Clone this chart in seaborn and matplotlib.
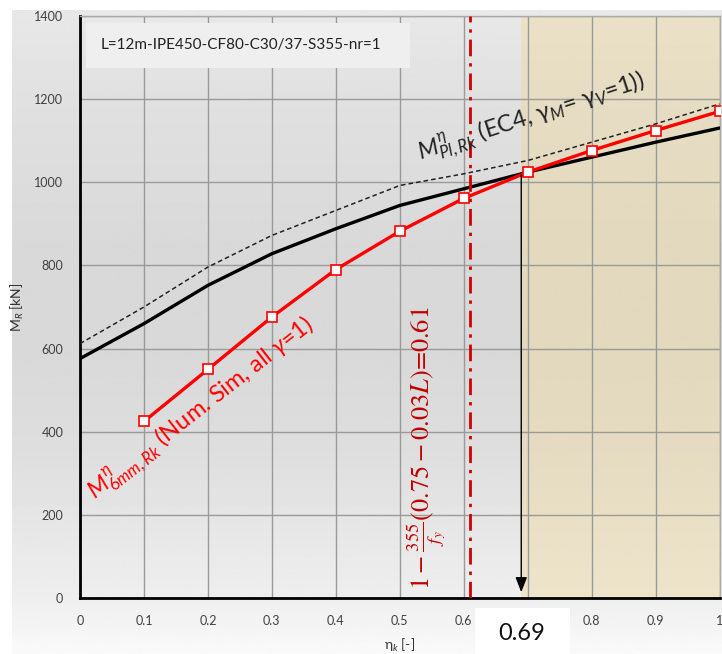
import numpy as np
import pandas as pd
import matplotlib
matplotlib.use("Agg")
import matplotlib.pyplot as plt
from matplotlib.patches import Rectangle
import seaborn as sns

# ---------------- data ----------------
eta = [0.0, 0.1, 0.2, 0.3, 0.4, 0.5, 0.6, 0.7, 0.8, 0.9, 1.0]
m_pl_rk_solid = [576, 660, 752, 828, 888, 944, 984, 1024, 1060, 1096, 1130]
m_pl_rk_dashed = [612, 700, 796, 872, 932, 992, 1020, 1052, 1096, 1140, 1188]
eta_sim = [0.1, 0.2, 0.3, 0.4, 0.5, 0.6, 0.7, 0.8, 0.9, 1.0]
m_6mm_rk = [425, 550, 676, 790, 882, 961, 1024, 1076, 1124, 1170]
eta_limit = 0.61
eta_cross = 0.69
m_cross = 1024
x_ticks = [0, 0.1, 0.2, 0.3, 0.4, 0.5, 0.6, 0.7, 0.8, 0.9, 1]
# the 0.7 label is covered by the "0.69" box in the reference
x_tick_labels = ["0", "0.1", "0.2", "0.3", "0.4", "0.5", "0.6", "", "0.8", "0.9", "1"]
y_ticks = [0, 200, 400, 600, 800, 1000, 1200, 1400]

sns.set_style("white")
plt.rcParams["font.family"] = ["Lato", "DejaVu Sans"]
plt.rcParams["mathtext.fontset"] = "custom"
plt.rcParams["mathtext.rm"] = "Lato"
plt.rcParams["mathtext.it"] = "Lato:italic"
plt.rcParams["mathtext.bf"] = "Lato:bold"

W, H = 722, 654
fig = plt.figure(figsize=(W / 100, H / 100), dpi=100)
fig.patch.set_facecolor("white")

# chart-area gradient background
bg = fig.add_axes([12 / W, 0, 1 - 12 / W, 1 - 10 / H], zorder=-5)
ys = np.linspace(10, 654, 300)
stops_y = [10, 100, 250, 350, 450, 598, 654]
stops_v = [0.91, 0.88, 0.85, 0.85, 0.87, 0.935, 0.98]
vals = np.interp(ys, stops_y, stops_v)
bg.imshow(vals[:, None], cmap="gray", vmin=0, vmax=1, aspect="auto",
          extent=[0, 1, 0, 1], origin="upper")
bg.axis("off")

ax = fig.add_axes([80 / W, (H - 598.3) / H, (719.5 - 80) / W, (598.3 - 15.7) / H])
ax.set_facecolor("none")

# shaded region
ax.axvspan(eta_cross, 1.0, color="#eed9a0", alpha=0.45, lw=0, zorder=0)

df_solid = pd.DataFrame({"eta": eta, "M": m_pl_rk_solid})
df_dash = pd.DataFrame({"eta": eta, "M": m_pl_rk_dashed})
df_sim = pd.DataFrame({"eta": eta_sim, "M": m_6mm_rk})

sns.lineplot(data=df_dash, x="eta", y="M", ax=ax, color="#222222", lw=1.1,
             linestyle=(0, (3, 2)), zorder=3)
sns.lineplot(data=df_solid, x="eta", y="M", ax=ax, color="black", lw=2.4, zorder=4)
sns.lineplot(data=df_sim, x="eta", y="M", ax=ax, color="#ff0000", lw=2.4, zorder=5,
             marker="s", markersize=7, markerfacecolor="white",
             markeredgecolor="#ff0000", markeredgewidth=1.2)

# limit line
ax.axvline(eta_limit, color="#d00000", lw=2, linestyle=(0, (6, 2.5, 1.2, 2.5)), zorder=6)

# arrow from intersection
ax.annotate("", xy=(eta_cross, 8), xytext=(eta_cross, m_cross),
            arrowprops=dict(arrowstyle="-|>,head_width=0.35,head_length=0.9",
                            color="black", lw=1), zorder=7)

ax.set_xlim(0, 1)
ax.set_ylim(0, 1400)
ax.set_xticks(x_ticks)
ax.set_xticklabels(x_tick_labels)
ax.set_yticks(y_ticks)
ax.grid(True, color="#9a9a9a", lw=1)
ax.set_axisbelow(True)
ax.tick_params(axis="both", length=0, labelsize=9, labelcolor="#404040")
ax.tick_params(axis="x", pad=12)
ax.tick_params(axis="y", pad=12)
for s in ["top", "right"]:
    ax.spines[s].set_color("#aaaaaa")
    ax.spines[s].set_linewidth(1)
for s in ["left", "bottom"]:
    ax.spines[s].set_color("black")
    ax.spines[s].set_linewidth(2)

ax.set_xlabel(r"η$_k$ [-]", fontsize=10, color="#333333", labelpad=7)
ax.set_ylabel(r"M$_R$ [kN]", fontsize=10, color="#333333", labelpad=6)

# title box
ax.add_patch(Rectangle((0.01, 1275), 0.506, 108, facecolor="#efefef",
                       edgecolor="none", zorder=2))
ax.text(0.032, 1330, "L=12m-IPE450-CF80-C30/37-S355-nr=1", fontsize=11,
        color="#222222", va="center", ha="left", zorder=3)

# curve labels
ax.text(0.532, 1052, r"$M^{\eta}_{Pl,Rk}$ (EC4, γ$_M$= γ$_V$=1))", fontsize=17,
        color="#222222", rotation=18, rotation_mode="anchor",
        ha="left", va="baseline", zorder=8)
ax.text(0.024, 236, r"$M^{\eta}_{6mm,Rk}$ (Num. Sim, all $\gamma$=1)", fontsize=17,
        color="#ff0000", rotation=38, rotation_mode="anchor",
        ha="left", va="baseline", zorder=8)
ax.text(0.543, 20, r"$1-\frac{355}{f_y}(0.75-0.03L)$=0.61", fontsize=19,
        color="#c00000", rotation=90, ha="center", va="bottom",
        math_fontfamily="stix", family=["STIXGeneral", "DejaVu Serif"], zorder=8)

# 0.69 box below the axis
fig.patches.append(Rectangle((475 / W, 0), (570 - 475) / W, (654 - 608) / H,
                             transform=fig.transFigure, facecolor="white",
                             edgecolor="none", zorder=10))
fig.text(522 / W, (654 - 634) / H, "0.69", fontsize=17, color="#111111",
         ha="center", va="center", zorder=11)

fig.savefig("out.png", dpi=100)
